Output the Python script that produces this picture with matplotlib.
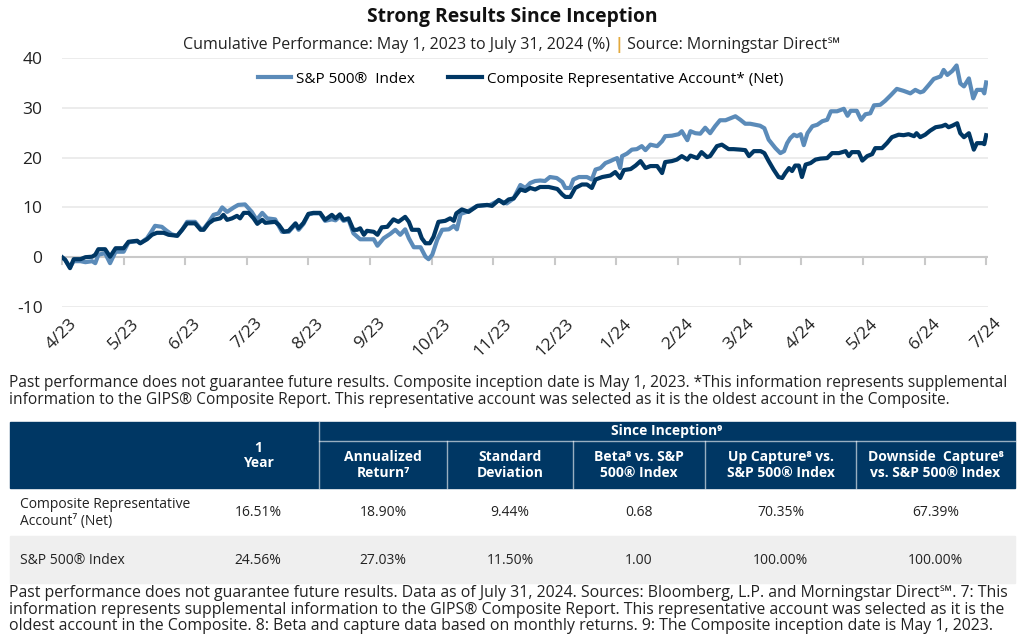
import matplotlib
matplotlib.use("Agg")
import matplotlib.pyplot as plt
from matplotlib.lines import Line2D

plt.rcParams['font.family'] = ['Open Sans', 'DejaVu Sans']

### colours ###
navy = '#003764'
light_blue = '#5b8bb9'
gold = '#e3a93c'

### chart data : x = months after 4/30/2023, y = cumulative return (%) ###
month_labels = ['4/23', '5/23', '6/23', '7/23', '8/23', '9/23', '10/23', '11/23',
                '12/23', '1/24', '2/24', '3/24', '4/24', '5/24', '6/24', '7/24']

composite_pts = [(0.00, 0.0), (0.05, -0.5), (0.13, -2.2), (0.19, -0.4), (0.30, -0.4), (0.38, 0.0),
                 (0.49, 0.1), (0.54, 0.5), (0.59, 1.6), (0.70, 1.6), (0.78, 0.1), (0.87, 1.8),
                 (1.00, 1.8), (1.08, 3.1), (1.22, 3.3), (1.27, 2.8), (1.38, 3.6), (1.46, 4.5),
                 (1.54, 4.9), (1.65, 4.9), (1.73, 4.5), (1.87, 4.3), (1.95, 5.5), (2.03, 6.8),
                 (2.16, 6.8), (2.25, 5.5), (2.30, 5.5), (2.38, 6.8), (2.46, 7.5), (2.57, 7.8),
                 (2.62, 8.5), (2.68, 7.5), (2.76, 7.8), (2.84, 8.3), (2.89, 7.8), (2.95, 8.9),
                 (3.03, 8.9), (3.11, 7.8), (3.17, 6.7), (3.25, 7.5), (3.30, 6.9), (3.46, 7.1),
                 (3.52, 6.5), (3.60, 5.1), (3.68, 5.3), (3.79, 6.8), (3.84, 5.8), (3.92, 6.9),
                 (4.00, 8.7), (4.08, 8.9), (4.19, 8.9), (4.27, 7.5), (4.38, 8.5), (4.44, 7.8),
                 (4.51, 8.6), (4.57, 7.5), (4.65, 7.8), (4.73, 5.5), (4.79, 5.5), (4.84, 5.8),
                 (4.90, 4.5), (4.95, 5.3), (5.06, 5.1), (5.12, 4.5), (5.19, 6.0), (5.28, 6.1),
                 (5.38, 7.6), (5.46, 7.1), (5.57, 8.1), (5.63, 7.1), (5.68, 5.5), (5.79, 5.5),
                 (5.84, 3.8), (5.90, 2.8), (5.97, 2.8), (6.03, 4.1), (6.11, 7.1), (6.22, 7.3),
                 (6.30, 7.8), (6.36, 7.3), (6.40, 8.8), (6.49, 9.6), (6.60, 9.1), (6.74, 10.3),
                 (6.90, 10.5), (6.98, 10.3), (7.09, 11.5), (7.17, 10.8), (7.25, 11.6), (7.33, 11.8),
                 (7.44, 13.6), (7.52, 13.3), (7.60, 13.9), (7.68, 13.6), (7.76, 14.1), (7.90, 14.1),
                 (8.04, 13.7), (8.12, 12.6), (8.17, 12.1), (8.25, 12.1), (8.33, 13.9), (8.44, 14.6),
                 (8.52, 14.6), (8.60, 13.9), (8.66, 15.6), (8.77, 16.1), (8.90, 16.4), (8.98, 17.1),
                 (9.06, 15.9), (9.12, 17.5), (9.23, 17.7), (9.31, 18.4), (9.39, 19.3), (9.47, 17.9),
                 (9.55, 18.3), (9.66, 18.3), (9.74, 16.9), (9.79, 19.1), (9.90, 19.3), (9.98, 19.6),
                 (10.06, 20.3), (10.15, 19.6), (10.20, 20.4), (10.31, 19.9), (10.38, 21.1), (10.47, 20.1),
                 (10.52, 20.3), (10.63, 22.3), (10.71, 22.6), (10.82, 21.7), (10.90, 21.7), (11.01, 21.6),
                 (11.09, 21.5), (11.15, 20.3), (11.23, 21.3), (11.34, 21.3), (11.40, 20.9), (11.47, 19.3),
                 (11.55, 17.6), (11.63, 16.1), (11.69, 15.9), (11.74, 16.9), (11.80, 17.9), (11.85, 17.3),
                 (11.90, 18.4), (11.96, 18.4), (12.01, 16.1), (12.07, 18.6), (12.15, 18.9), (12.23, 19.6),
                 (12.31, 19.8), (12.42, 19.9), (12.50, 20.9), (12.61, 20.9), (12.72, 21.3), (12.77, 20.3),
                 (12.82, 21.1), (12.93, 21.1), (12.99, 19.4), (13.07, 20.3), (13.15, 20.7), (13.20, 21.9),
                 (13.31, 21.9), (13.39, 22.9), (13.47, 24.1), (13.58, 24.6), (13.66, 24.5), (13.74, 24.7),
                 (13.83, 24.3), (13.87, 24.9), (13.93, 24.1), (14.01, 24.6), (14.09, 25.4), (14.18, 26.1),
                 (14.28, 26.3), (14.34, 26.6), (14.39, 26.1), (14.45, 26.4), (14.53, 26.9), (14.58, 24.9),
                 (14.64, 24.1), (14.72, 24.9), (14.80, 21.6), (14.85, 22.9), (14.94, 22.9), (14.97, 22.7),
                 (15.00, 24.5)]

sp500_pts = [(0.00, 0.0), (0.05, -0.5), (0.13, -2.0), (0.19, -0.8), (0.30, -0.8), (0.38, -1.0),
             (0.49, -0.8), (0.54, -1.2), (0.59, 0.5), (0.70, 0.8), (0.78, -1.2), (0.87, 1.1),
             (1.00, 1.1), (1.08, 3.0), (1.22, 3.2), (1.27, 2.8), (1.38, 3.8), (1.46, 5.3),
             (1.51, 6.3), (1.62, 6.1), (1.70, 5.3), (1.78, 4.6), (1.87, 4.3), (1.95, 5.5),
             (2.03, 7.1), (2.16, 7.1), (2.25, 5.7), (2.30, 5.7), (2.38, 7.0), (2.46, 8.5),
             (2.54, 8.8), (2.60, 10.0), (2.68, 9.1), (2.79, 10.0), (2.86, 10.5), (2.97, 10.6),
             (3.08, 9.1), (3.16, 7.5), (3.25, 8.9), (3.33, 7.8), (3.46, 7.6), (3.57, 5.1),
             (3.68, 5.1), (3.79, 6.6), (3.84, 5.5), (3.92, 6.7), (4.00, 8.6), (4.08, 8.8),
             (4.19, 8.8), (4.27, 7.3), (4.38, 7.6), (4.44, 7.4), (4.51, 8.2), (4.57, 7.3),
             (4.65, 7.6), (4.73, 4.8), (4.84, 3.6), (4.95, 3.6), (5.06, 3.6), (5.12, 2.3),
             (5.22, 3.8), (5.33, 4.7), (5.41, 5.5), (5.49, 4.5), (5.57, 5.6), (5.63, 3.8),
             (5.71, 2.0), (5.82, 2.0), (5.90, 0.1), (5.95, -0.4), (6.01, 0.5), (6.09, 3.5),
             (6.17, 5.5), (6.28, 5.6), (6.36, 6.3), (6.41, 5.6), (6.47, 8.7), (6.57, 9.1),
             (6.74, 10.3), (6.95, 10.5), (7.09, 11.4), (7.22, 10.8), (7.33, 11.8), (7.44, 14.5),
             (7.52, 13.9), (7.60, 14.9), (7.68, 15.3), (7.76, 15.4), (7.84, 15.3), (7.92, 16.1),
             (8.03, 15.9), (8.12, 15.1), (8.17, 13.9), (8.25, 13.9), (8.30, 15.6), (8.39, 16.1),
             (8.52, 16.1), (8.60, 15.6), (8.66, 17.6), (8.74, 17.9), (8.82, 18.9), (8.90, 19.3),
             (8.95, 19.6), (9.01, 19.9), (9.06, 17.9), (9.09, 20.3), (9.17, 20.8), (9.25, 21.6),
             (9.33, 21.7), (9.41, 22.3), (9.47, 21.5), (9.55, 22.6), (9.66, 22.3), (9.74, 23.3),
             (9.79, 24.3), (9.90, 24.4), (10.01, 24.7), (10.06, 25.3), (10.15, 23.5), (10.20, 25.3),
             (10.28, 24.9), (10.36, 24.8), (10.44, 26.0), (10.52, 24.9), (10.60, 26.3), (10.68, 27.5),
             (10.77, 27.5), (10.85, 27.9), (10.93, 28.3), (11.01, 27.6), (11.09, 26.8), (11.17, 26.8),
             (11.25, 26.6), (11.33, 26.4), (11.40, 25.9), (11.47, 23.6), (11.58, 21.9), (11.66, 20.9),
             (11.72, 21.3), (11.77, 22.9), (11.82, 23.9), (11.88, 24.6), (11.93, 24.3), (11.99, 24.7),
             (12.04, 22.5), (12.10, 24.9), (12.18, 26.3), (12.26, 26.6), (12.34, 27.3), (12.42, 27.6),
             (12.48, 29.3), (12.58, 29.3), (12.69, 29.8), (12.75, 28.4), (12.80, 29.4), (12.90, 29.4),
             (12.97, 27.6), (13.04, 28.7), (13.12, 28.9), (13.18, 30.5), (13.28, 30.6), (13.36, 31.4),
             (13.45, 32.5), (13.55, 33.8), (13.66, 33.4), (13.77, 32.9), (13.85, 33.6), (13.93, 33.1),
             (13.98, 33.3), (14.07, 34.6), (14.15, 35.8), (14.26, 36.3), (14.31, 37.6), (14.37, 36.6),
             (14.45, 37.4), (14.52, 38.5), (14.58, 34.9), (14.64, 34.3), (14.72, 35.9), (14.79, 31.9),
             (14.85, 33.6), (14.94, 33.6), (14.97, 32.9), (15.00, 35.1)]

y_ticks = [-10, 0, 10, 20, 30, 40]

### table data ###
since_label = 'Since Inception\u2079'
col_heads = ['1\nYear', 'Annualized\nReturn\u2077', 'Standard\nDeviation',
             'Beta\u2078 vs. S&P\n500\u00ae Index', 'Up Capture\u2078 vs.\nS&P 500\u00ae Index',
             'Downside  Capture\u2078\nvs. S&P 500\u00ae Index']
row_names = ['Composite Representative\nAccount\u2077 (Net)', 'S&P 500\u00ae Index']
composite_stats = ['16.51%', '18.90%', '9.44%', '0.68', '70.35%', '67.39%']
sp500_stats = ['24.56%', '27.03%', '11.50%', '1.00', '100.00%', '100.00%']

note_top = ["Past performance does not guarantee future results. Composite inception date is May 1, 2023. *This information represents supplemental",
            "information to the GIPS\u00ae Composite Report. This representative account was selected as it is the oldest account in the Composite."]
note_bottom = ["Past performance does not guarantee future results. Data as of July 31, 2024. Sources: Bloomberg, L.P. and Morningstar Direct\u2120. 7: This",
               "information represents supplemental information to the GIPS\u00ae Composite Report. This representative account was selected as it is the",
               "oldest account in the Composite. 8: Beta and capture data based on monthly returns. 9: The Composite inception date is May 1, 2023."]

W, H = 1024, 639
fig = plt.figure(figsize=(W / 100, H / 100), dpi=100)

# overlay in pixel units for titles / table
bg = fig.add_axes([0, 0, 1, 1])
bg.set_xlim(0, W)
bg.set_ylim(H, 0)
bg.axis('off')

ax = fig.add_axes([62 / W, 1 - 307 / H, 926 / W, 249 / H])
ax.set_facecolor('none')

sx = [p[0] for p in sp500_pts]
sy = [p[1] for p in sp500_pts]
cx = [p[0] for p in composite_pts]
cy = [p[1] for p in composite_pts]
ax.plot(sx, sy, color=light_blue, lw=3, solid_joinstyle='round', zorder=3)
ax.plot(cx, cy, color=navy, lw=3, solid_joinstyle='round', zorder=4)

ax.set_xlim(0, 15.03)
ax.set_ylim(-10, 40)
ax.set_yticks(y_ticks)
ax.set_yticklabels([str(t) for t in y_ticks], fontsize=12.5, color='#222222')
for t in y_ticks:
    if t != 0:
        ax.axhline(t, color='#ebebeb', lw=1.3, zorder=1)
ax.axhline(0, color='#c9c9c9', lw=1.5, zorder=2)
for i in range(len(month_labels)):
    ax.plot([i, i], [0, -1.3], color='#c9c9c9', lw=1.5, zorder=2, clip_on=False)
ax.set_xticks(range(len(month_labels)))
ax.set_xticklabels(month_labels, rotation=45, ha='center', fontsize=12.5, color='#222222')
ax.tick_params(axis='y', length=0, pad=14)
ax.tick_params(axis='x', length=0, pad=6)
for s in ax.spines.values():
    s.set_visible(False)

handles = [Line2D([], [], color=light_blue, lw=3), Line2D([], [], color=navy, lw=3)]
ax.legend(handles, ['S&P 500\u00ae  Index', 'Composite Representative Account* (Net)'],
          ncol=2, loc='upper center', bbox_to_anchor=(0.495, 1.0), frameon=False,
          fontsize=11, handlelength=2.2, handletextpad=0.3, columnspacing=2.2)

### title and subtitle ###
bg.text(W / 2, 17, 'Strong Results Since Inception', ha='center', va='center',
        fontsize=13.9, fontweight='bold', color='#111111')

sub_parts = [('Cumulative Performance: May 1, 2023 to July 31, 2024 (%) ', '#222222'),
             ('|', gold),
             (' Source: Morningstar Direct\u2120', '#222222')]
renderer = fig.canvas.get_renderer()
pieces = []
for txt, col in sub_parts:
    t = bg.text(0, 45, txt, ha='left', va='center', fontsize=11.5, color=col)
    pieces.append(t)
pieces[1].set_fontweight('bold')
widths = [p.get_window_extent(renderer).width for p in pieces]
x0 = W / 2 - sum(widths) / 2
for p, w in zip(pieces, widths):
    p.set_x(x0)
    x0 += w

### notes ###
for i, line in enumerate(note_top):
    bg.text(9, 383 + 17 * i, line, ha='left', va='center', fontsize=11.2, color='#222222')
for i, line in enumerate(note_bottom):
    bg.text(9, 593 + 16.5 * i, line, ha='left', va='center', fontsize=11.4, color='#222222')

### table ###
left, right = 10, 1015
col_edges = [197, 319, 447, 573, 705, 856, 1015]
col_centers = [(col_edges[i] + col_edges[i + 1]) / 2 for i in range(6)]

bg.add_patch(plt.Rectangle((left, 422), right - left, 66, color=navy, zorder=1))
bg.plot([319, right], [441, 441], color='white', lw=1, alpha=0.6, zorder=2)
bg.plot([319, 319], [422, 488], color='white', lw=1, alpha=0.6, zorder=2)
for xe in col_edges[2:-1]:
    bg.plot([xe, xe], [441, 488], color='white', lw=1, alpha=0.6, zorder=2)

bg.text((319 + right) / 2, 431.5, since_label, ha='center', va='center',
        fontsize=10, fontweight='bold', color='white', zorder=3)
bg.text(col_centers[0], 455.5, col_heads[0], ha='center', va='center', fontsize=10,
        fontweight='bold', color='white', linespacing=1.15, zorder=3)
for i in range(1, 6):
    bg.text(col_centers[i], 465, col_heads[i], ha='center', va='center', fontsize=10,
            fontweight='bold', color='white', linespacing=1.15, zorder=3)

bg.add_patch(plt.Rectangle((left, 536), right - left, 47, color='#efefef', zorder=1))
row_y = [513, 561]
for r, (name, vals) in enumerate(zip(row_names, [composite_stats, sp500_stats])):
    bg.text(20, row_y[r], name, ha='left', va='center', fontsize=10, color='#222222',
            linespacing=1.2, zorder=3)
    for i, v in enumerate(vals):
        bg.text(col_centers[i], row_y[r], v, ha='center', va='center', fontsize=10,
                color='#222222', zorder=3)

fig.savefig('out.png', dpi=100)
